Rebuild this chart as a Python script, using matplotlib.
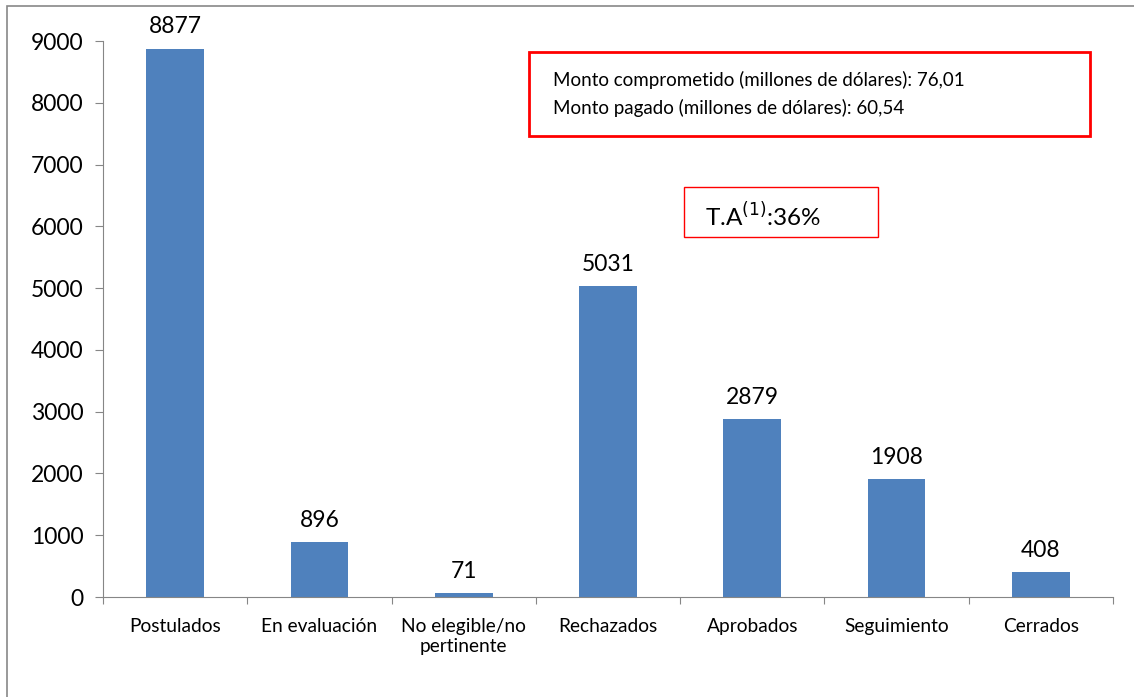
import matplotlib
matplotlib.use("Agg")
import matplotlib.pyplot as plt
from matplotlib.patches import Rectangle

plt.rcParams["font.family"] = ["Lato", "DejaVu Sans"]

categories = ["Postulados", "En evaluación", "No elegible/no\npertinente", "Rechazados",
              "Aprobados", "Seguimiento", "Cerrados"]
values = [8877, 896, 71, 5031, 2879, 1908, 408]
yticks = [0, 1000, 2000, 3000, 4000, 5000, 6000, 7000, 8000, 9000]

BAR_COLOR = "#4f81bd"
AXIS_COLOR = "#868686"

fig = plt.figure(figsize=(11.34, 6.97), dpi=100)
ax = fig.add_axes([103 / 1134, 1 - 597 / 697, 1010 / 1134, 556 / 697])

x = range(len(categories))
ax.bar(x, values, width=0.4, color=BAR_COLOR)
for xi, v in zip(x, values):
    ax.annotate(str(v), (xi, v), xytext=(0, 8), textcoords="offset points",
                ha="center", va="bottom", fontsize=16.5)

ax.set_xlim(-0.5, len(categories) - 0.5)
ax.set_ylim(0, 9000)
ax.set_yticks(yticks)
ax.tick_params(axis="y", labelsize=16.5, length=6, color=AXIS_COLOR, pad=8)

# category labels sit between the boundary ticks, like Excel
ax.set_xticks([i - 0.5 for i in range(len(categories) + 1)])
ax.set_xticklabels([])
ax.set_xticks(list(x), minor=True)
ax.set_xticklabels(categories, minor=True, fontsize=13.8, linespacing=1.25)
ax.tick_params(axis="x", which="major", length=5, color=AXIS_COLOR)
ax.tick_params(axis="x", which="minor", length=0, pad=15)

for side in ["top", "right"]:
    ax.spines[side].set_visible(False)
for side in ["left", "bottom"]:
    ax.spines[side].set_color(AXIS_COLOR)

# outer chart border
fig.add_artist(Rectangle((7 / 1134, -0.01), 1.2, 1 - 6 / 697 + 0.01, transform=fig.transFigure,
                         fill=False, edgecolor="#888888", linewidth=1.2))

# annotation boxes
fig.add_artist(Rectangle((529 / 1134, 1 - 136 / 697), 561 / 1134, 84 / 697,
                         transform=fig.transFigure, fill=False, edgecolor="red", linewidth=2))
fig.text(553 / 1134, 1 - 80 / 697, "Monto comprometido (millones de dólares): 76,01",
         fontsize=13.5, va="center")
fig.text(553 / 1134, 1 - 108 / 697, "Monto pagado (millones de dólares): 60,54",
         fontsize=13.5, va="center")

fig.add_artist(Rectangle((684 / 1134, 1 - 237 / 697), 194 / 1134, 50 / 697,
                         transform=fig.transFigure, fill=False, edgecolor="red", linewidth=1))
fig.text(705 / 1134, 1 - 216 / 697, r"T.A$^{\mathrm{(1)}}$:36%", fontsize=17.5, va="center")

fig.savefig("out.png", dpi=100)
